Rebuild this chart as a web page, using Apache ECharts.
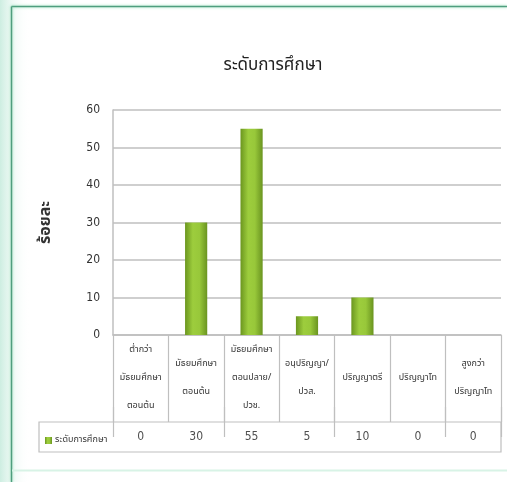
<!DOCTYPE html>
<html><head><meta charset="utf-8">
<script src="https://cdn.jsdelivr.net/npm/echarts@6/dist/echarts.min.js"></script>
<style>html,body{margin:0;padding:0;background:#fff}#c{width:507px;height:482px}</style>
</head><body><div id="c"></div>
<script>
const titleText = 'ระดับการศึกษา';
const yAxisName = 'ร้อยละ';
const seriesName = 'ระดับการศึกษา';
const categories = [
  'ต่ำกว่า\nมัธยมศึกษา\nตอนต้น',
  'มัธยมศึกษา\nตอนต้น',
  'มัธยมศึกษา\nตอนปลาย/\nปวช.',
  'อนุปริญญา/\nปวส.',
  'ปริญญาตรี',
  'ปริญญาโท',
  'สูงกว่า\nปริญญาโท'
];
const values = [0, 30, 55, 5, 10, 0, 0];
const yTicks = { min: 0, max: 60, interval: 10 };

const FONT = "Tahoma, 'Noto Sans Thai', 'Liberation Sans Narrow', 'DejaVu Sans', sans-serif";
const grey = '#bfbfbf';
const barGrad = new echarts.graphic.LinearGradient(0, 0, 1, 0, [
  { offset: 0, color: '#6b961f' },
  { offset: 0.35, color: '#9dcd3d' },
  { offset: 0.65, color: '#98c83a' },
  { offset: 1, color: '#6a9420' }
]);

const chart = echarts.init(document.getElementById('c'), null, { renderer: 'canvas' });
chart.setOption({
  backgroundColor: '#ffffff',
  animation: false,
  textStyle: { fontFamily: FONT },
  title: {
    text: titleText, left: 268, top: 53, textAlign: 'center',
    textStyle: { fontSize: 17, fontWeight: 'normal', color: '#222', fontFamily: FONT }
  },
  legend: {
    data: [seriesName], left: 40, top: 431, itemWidth: 7, itemHeight: 7, itemGap: 2,
    icon: 'rect',
    textStyle: { fontSize: 9, color: '#333', fontFamily: FONT, padding: [0, 0, 0, -2] }
  },
  graphic: [
    { type: 'rect', left: 0, top: 0, shape: { width: 30, height: 482 }, silent: true, z: -1,
      style: { fill: new echarts.graphic.LinearGradient(0, 0, 1, 0, [
        { offset: 0, color: 'rgba(200,236,222,0.9)' }, { offset: 1, color: 'rgba(255,255,255,0)' }]) } },
    { type: 'line', shape: { x1: 11.5, y1: 6.5, x2: 507, y2: 6.5 }, silent: true,
      style: { stroke: '#4f9e7e', lineWidth: 1.5, shadowColor: 'rgba(120,220,170,0.8)', shadowBlur: 3 } },
    { type: 'line', shape: { x1: 11.5, y1: 6.5, x2: 11.5, y2: 482 }, silent: true,
      style: { stroke: '#4f9e7e', lineWidth: 1.5, shadowColor: 'rgba(120,220,170,0.8)', shadowBlur: 3 } },
    { type: 'line', shape: { x1: 12, y1: 470.5, x2: 507, y2: 470.5 }, silent: true,
      style: { stroke: '#d8f3e6', lineWidth: 2 } }
  ],
  grid: [
    { left: 113, top: 110, width: 388, height: 225 },
    { left: 39, top: 422, width: 462, height: 30, show: true, borderColor: grey, borderWidth: 1.2, backgroundColor: 'transparent' },
    { left: 113, top: 422, width: 388, height: 30 }
  ],
  xAxis: [
    { type: 'category', gridIndex: 0, data: categories, boundaryGap: true,
      axisLine: { show: true, lineStyle: { color: grey, width: 1.5 } },
      axisTick: { show: true, length: 87, lineStyle: { color: grey, width: 1.2 } },
      axisLabel: { interval: 0, margin: 43, verticalAlign: 'middle', fontSize: 9, lineHeight: 28, color: '#333', fontFamily: FONT },
      splitLine: { show: false } },
    { type: 'value', gridIndex: 1, show: false, min: 0, max: 1 },
    { type: 'category', gridIndex: 2, data: categories, boundaryGap: true,
      axisLine: { show: false },
      axisTick: { show: true, inside: true, length: 30, lineStyle: { color: grey, width: 1.2 } },
      axisLabel: { show: false }, splitLine: { show: false } }
  ],
  yAxis: [
    { type: 'value', gridIndex: 0, min: yTicks.min, max: yTicks.max, interval: yTicks.interval,
      name: yAxisName, nameLocation: 'middle', nameGap: 58, nameRotate: 90,
      nameTextStyle: { fontSize: 16, fontWeight: 'bold', color: '#333', fontFamily: FONT },
      axisLine: { show: true, lineStyle: { color: grey, width: 1.5 } },
      axisTick: { show: false },
      axisLabel: { fontSize: 12, color: '#333', margin: 13, fontFamily: "'Liberation Sans Narrow', 'DejaVu Sans Condensed', sans-serif" },
      splitLine: { show: true, lineStyle: { color: grey, width: 1.5 } } },
    { type: 'value', gridIndex: 1, show: false, min: 0, max: 1 },
    { type: 'value', gridIndex: 2, show: false, min: -1, max: 1 }
  ],
  series: [
    { name: seriesName, type: 'bar', xAxisIndex: 0, yAxisIndex: 0, data: values, barWidth: '40%',
      itemStyle: { color: barGrad, borderWidth: 0 } },
    { type: 'scatter', xAxisIndex: 2, yAxisIndex: 2, symbolSize: 0, silent: true,
      data: values.map((v, i) => [i, 0]),
      label: { show: true, position: 'inside', formatter: p => String(values[p.dataIndex]),
        fontSize: 12, color: '#222', fontFamily: "'Liberation Sans Narrow', 'DejaVu Sans Condensed', sans-serif" } }
  ]
});
</script></body></html>
